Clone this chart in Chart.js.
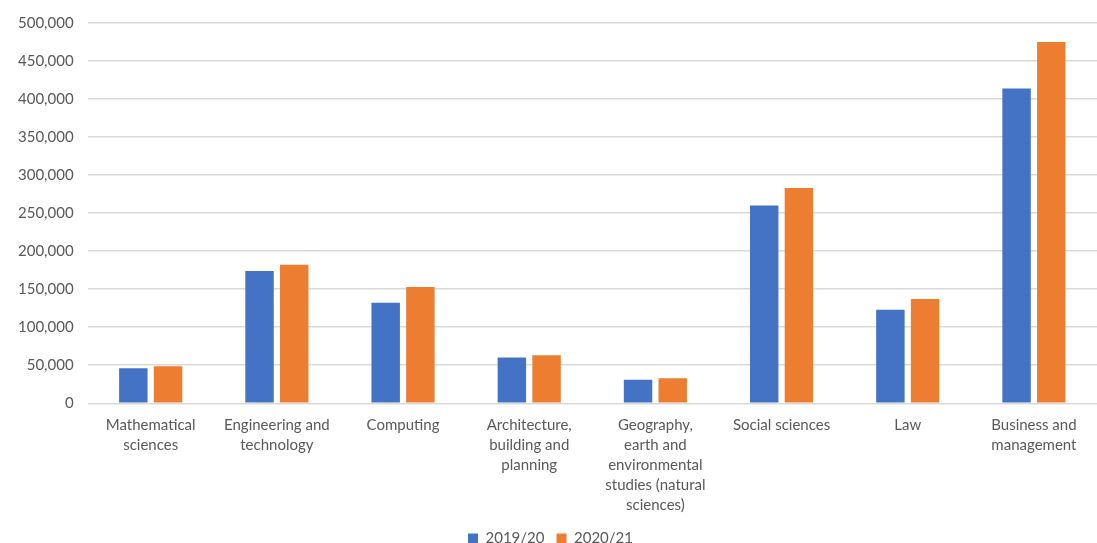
<!DOCTYPE html>
<html>
<head>
<meta charset="utf-8">
<script src="https://cdn.jsdelivr.net/npm/chart.js@4.4.1/dist/chart.umd.min.js"></script>
<style>
  html, body { margin: 0; padding: 0; background: #fff; }
  #wrap { width: 1097px; height: 543px; }
</style>
</head>
<body>
<div id="wrap"><canvas id="grafico"></canvas></div>
<script>
const categorias = [
    ['Mathematical', 'sciences'],
    ['Engineering and', 'technology'],
    ['Computing'],
    ['Architecture,', 'building and', 'planning'],
    ['Geography,', 'earth and', 'environmental', 'studies (natural', 'sciences)'],
    ['Social sciences'],
    ['Law'],
    ['Business and', 'management']
];
const anos = ['2019/20', '2020/21'];
const valores2019 = [46000, 174000, 132000, 60000, 31000, 260000, 123000, 414000];
const valores2020 = [48500, 182000, 153000, 63000, 33000, 283000, 137000, 475000];

const ctx = document.getElementById('grafico');

new Chart(ctx, {
    type: 'bar',
    data: {
        labels: categorias,
        datasets: [{
            label: anos[0],
            data: valores2019,
            backgroundColor: '#4472C4',
            categoryPercentage: 0.55,
            barPercentage: 0.82
        }, {
            label: anos[1],
            data: valores2020,
            backgroundColor: '#ED7D31',
            categoryPercentage: 0.55,
            barPercentage: 0.82
        }]
    },
    options: {
        responsive: true,
        maintainAspectRatio: false,
        animation: false,
        layout: { padding: { top: 6, right: 0, left: 4, bottom: 0 } },
        plugins: {
            tooltip: { enabled: false },
            legend: {
                position: 'bottom',
                maxHeight: 24,
                labels: {
                    boxWidth: 10,
                    boxHeight: 10,
                    color: '#595959',
                    font: { family: 'Lato', size: 15 },
                    padding: 12
                }
            }
        },
        scales: {
            x: {
                grid: { display: false },
                border: { display: false },
                ticks: {
                    color: '#595959',
                    font: { family: 'Lato', size: 15, lineHeight: 1.33 },
                    maxRotation: 0,
                    autoSkip: false,
                    padding: 4
                }
            },
            y: {
                min: 0,
                max: 500000,
                grid: { color: '#d9d9d9', lineWidth: 1.5, drawTicks: false },
                border: { display: false },
                ticks: {
                    stepSize: 50000,
                    color: '#595959',
                    font: { family: 'Lato', size: 15 },
                    padding: 14,
                    callback: v => v.toLocaleString('en-US')
                }
            }
        }
    }
});
</script>
</body>
</html>
